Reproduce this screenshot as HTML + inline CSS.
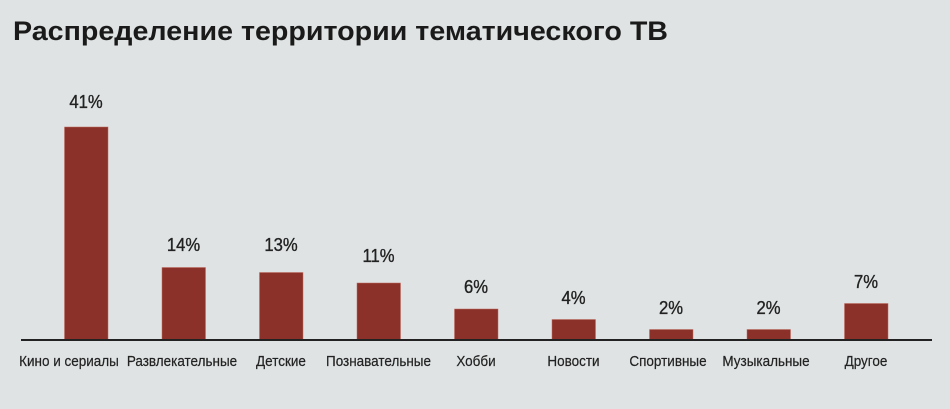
<!DOCTYPE html>
<html><head><meta charset="utf-8"><style>
html,body{margin:0;padding:0;background:#dfe3e3;}
svg{display:block}
</style></head><body>
<svg width="950" height="409" xmlns="http://www.w3.org/2000/svg">
<rect width="950" height="409" fill="#dfe3e3"/>
<text x="13" y="40" font-family="Liberation Sans, sans-serif" font-weight="bold" font-size="27" fill="#1a1a1a" textLength="655" lengthAdjust="spacingAndGlyphs">Распределение территории тематического ТВ</text>
<g fill="#8b3129" stroke="#c06a60" stroke-width="0.5">
<rect x="64.5" y="127" width="43.5" height="213"/>
<rect x="162" y="267.5" width="43.5" height="72.5"/>
<rect x="259.5" y="272.5" width="43.5" height="67.5"/>
<rect x="357" y="283" width="43.5" height="57"/>
<rect x="454.5" y="309" width="43.5" height="31"/>
<rect x="552" y="319.5" width="43.5" height="20.5"/>
<rect x="649.5" y="329.5" width="43.5" height="10.5"/>
<rect x="747" y="329.5" width="43.5" height="10.5"/>
<rect x="844.5" y="303.5" width="43.5" height="36.5"/>
</g>
<line x1="21" y1="340" x2="932" y2="340" stroke="#222" stroke-width="2"/>
<g font-family="Liberation Sans, sans-serif" font-size="18.5" fill="#222" stroke="#222" stroke-width="0.35" text-anchor="middle">
<text x="86" y="108" transform="translate(86 0) scale(0.9 1) translate(-86 0)">41%</text>
<text x="183.5" y="251" transform="translate(183.5 0) scale(0.9 1) translate(-183.5 0)">14%</text>
<text x="281" y="251" transform="translate(281 0) scale(0.9 1) translate(-281 0)">13%</text>
<text x="378.5" y="262" transform="translate(378.5 0) scale(0.9 1) translate(-378.5 0)">11%</text>
<text x="476" y="293" transform="translate(476 0) scale(0.9 1) translate(-476 0)">6%</text>
<text x="573.5" y="304" transform="translate(573.5 0) scale(0.9 1) translate(-573.5 0)">4%</text>
<text x="671" y="314" transform="translate(671 0) scale(0.9 1) translate(-671 0)">2%</text>
<text x="768.5" y="314" transform="translate(768.5 0) scale(0.9 1) translate(-768.5 0)">2%</text>
<text x="866" y="288" transform="translate(866 0) scale(0.9 1) translate(-866 0)">7%</text>
</g>
<g font-family="Liberation Sans, sans-serif" font-size="15" fill="#222" stroke="#222" stroke-width="0.2" text-anchor="middle">
<text x="69" y="366" transform="translate(69 0) scale(0.9 1) translate(-69 0)">Кино и сериалы</text>
<text x="182" y="366" transform="translate(182 0) scale(0.9 1) translate(-182 0)">Развлекательные</text>
<text x="281" y="366" transform="translate(281 0) scale(0.9 1) translate(-281 0)">Детские</text>
<text x="378.5" y="366" transform="translate(378.5 0) scale(0.9 1) translate(-378.5 0)">Познавательные</text>
<text x="476" y="366" transform="translate(476 0) scale(0.9 1) translate(-476 0)">Хобби</text>
<text x="573.5" y="366" transform="translate(573.5 0) scale(0.9 1) translate(-573.5 0)">Новости</text>
<text x="668" y="366" transform="translate(668 0) scale(0.9 1) translate(-668 0)">Спортивные</text>
<text x="766" y="366" transform="translate(766 0) scale(0.9 1) translate(-766 0)">Музыкальные</text>
<text x="866" y="366" transform="translate(866 0) scale(0.9 1) translate(-866 0)">Другое</text>
</g>
</svg>
</body></html>
